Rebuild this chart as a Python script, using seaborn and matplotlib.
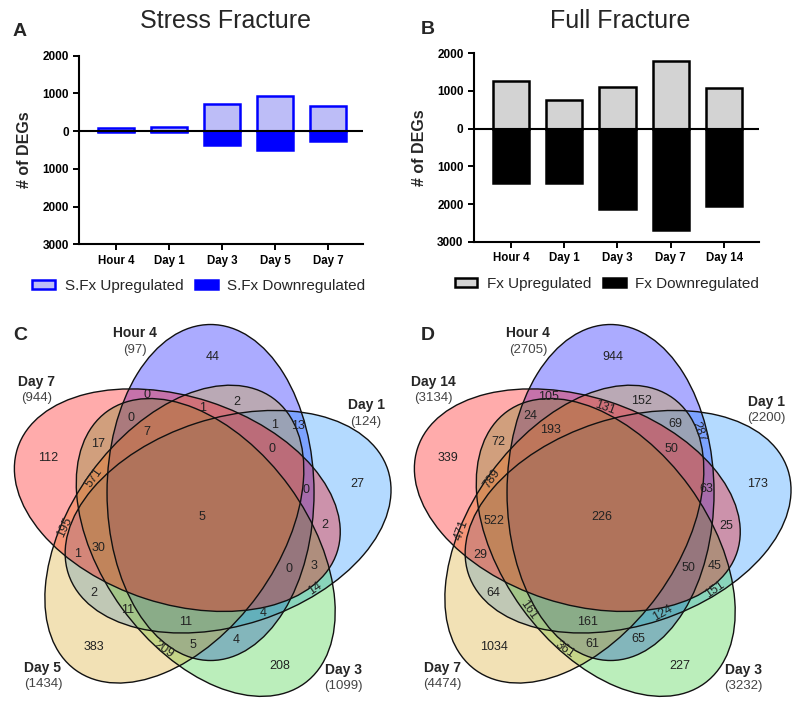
import numpy as np
import matplotlib
matplotlib.use("Agg")
import matplotlib.pyplot as plt
from matplotlib.patches import Ellipse, Patch
import seaborn as sns

# ---- bar chart data (A: stress fracture, B: full fracture) ----
a_days = ["Hour 4", "Day 1", "Day 3", "Day 5", "Day 7"]
a_up = [71, 100, 720, 940, 672]
a_down = [26, 24, 379, 494, 272]

b_days = ["Hour 4", "Day 1", "Day 3", "Day 7", "Day 14"]
b_up = [1270, 765, 1100, 1790, 1080]
b_down = [1435, 1435, 2132, 2684, 2054]

# ---- venn data ----
c_sets = ["Hour 4", "Day 1", "Day 3", "Day 5", "Day 7"]
c_totals = [97, 124, 1099, 1434, 944]
c_counts = [44, 27, 208, 383, 112, 0, 1, 2, 0, 7, 1, 13, 17, 0, 571, 0,
            5, 30, 195, 1, 2, 0, 3, 2, 14, 11, 11, 4, 209, 5, 4]

d_sets = ["Hour 4", "Day 1", "Day 3", "Day 7", "Day 14"]
d_totals = [2705, 2200, 3232, 4474, 3134]
d_counts = [944, 173, 227, 1034, 339, 105, 131, 152, 24, 193, 69, 287, 72, 50, 789, 63,
            226, 522, 471, 29, 25, 50, 45, 64, 151, 161, 161, 124, 361, 61, 65]

# label positions (pixel coords inside each venn panel)
c_pos = [(213, 357), (357, 484), (280, 666), (94, 647), (48, 458), (147, 395),
         (203, 408), (237, 402), (131.5, 418), (147, 432), (275, 425), (298, 426),
         (98, 444), (272, 449), (94, 478), (306, 490), (201.7, 516.7), (99, 548),
         (65, 527), (77.7, 554), (325, 525), (289, 569), (314, 566), (94, 593),
         (315, 589), (127.7, 610), (186, 621.7), (262.7, 613.3), (164, 649.3),
         (192.7, 645), (235.7, 640)]
d_pos = [(213, 357), (358, 484), (280, 666), (94.3, 647), (48.3, 458), (148.3, 396.7),
         (205, 407.3), (241.7, 401), (130.7, 416), (150.7, 430), (275, 424), (298.3, 431.7),
         (98.3, 441.7), (271.7, 449), (91.7, 478.3), (306.7, 489.3), (201.7, 516.7), (94, 521),
         (61.7, 530), (80, 555), (326, 525.7), (288.3, 568.3), (315, 565.7), (93.3, 593.3),
         (315, 590), (128.3, 610), (187.3, 621.7), (262.7, 613.3), (165, 650),
         (192.3, 644), (238.3, 639.3)]
c_rot = [0] * 31
c_rot[14], c_rot[18], c_rot[24], c_rot[28] = 55, 65, 35, -35
d_rot = [0] * 31
d_rot[6], d_rot[11], d_rot[14], d_rot[18] = -20, -70, 55, 70
d_rot[24], d_rot[25], d_rot[27], d_rot[28] = 35, -55, 30, -35

set_pos = [(135, 333), (366, 405), (343.5, 670), (43, 668), (37, 382)]
d_set_pos = [(128.3, 333.3), (366.7, 402), (343.3, 670), (42.7, 668), (33, 382)]
venn_colors = ["#0000FF", "#1E90FF", "#32CD32", "#DAA520", "#FF0000"]

sns.set_theme(style="ticks")
plt.rcParams["font.family"] = ["Liberation Sans", "DejaVu Sans"]

W, H = 800, 709
fig = plt.figure(figsize=(8, 7.09), dpi=100)


def bar_panel(left, right, top, bottom, days, up, down, up_fc, edge, down_fc, title,
              letter, letter_xy, labels, leg_x, leg_y):
    ax = fig.add_axes([left / W, 1 - bottom / H, (right - left) / W, (bottom - top) / H])
    sns.barplot(x=days, y=up, color=up_fc, edgecolor=edge, linewidth=1.8,
                width=0.68, saturation=1, ax=ax)
    sns.barplot(x=days, y=[-v for v in down], color=down_fc, edgecolor=edge, linewidth=1.8,
                width=0.68, saturation=1, ax=ax)
    ax.axhline(0, color="black", lw=1.5, zorder=5)
    ax.set_ylim(-3000, 2000)
    ax.set_xlim(-0.69, 4.66)
    ticks = [2000, 1000, 0, -1000, -2000, -3000]
    ax.set_yticks(ticks)
    ax.set_yticklabels([str(abs(t)) for t in ticks], fontweight="bold", fontsize=8.5)
    ax.set_xticks(range(5))
    ax.set_xticklabels(days, fontweight="bold", fontsize=8.3)
    ax.tick_params(axis="both", length=4, width=1.4, pad=3.5, colors="black")
    for s in ["left", "bottom"]:
        ax.spines[s].set_linewidth(1.5)
        ax.spines[s].set_color("black")
    sns.despine(ax=ax)
    ax.set_ylabel("# of DEGs", fontweight="bold", fontsize=11.5)
    ax.yaxis.set_label_coords(-0.165, 0.5)
    ax.set_xlabel("")
    fig.text((left + right) / 2 / W + 0.005, 1 - 21 / H, title, ha="center", va="center",
             fontsize=18)
    fig.text(letter_xy[0] / W, 1 - letter_xy[1] / H, letter, ha="center", va="center",
             fontsize=14, fontweight="bold")
    handles = [Patch(facecolor=up_fc, edgecolor=edge, linewidth=1.8),
               Patch(facecolor=down_fc, edgecolor=edge, linewidth=1.8)]
    fig.legend(handles, labels, loc="center", bbox_to_anchor=(leg_x / W, 1 - leg_y / H),
               ncol=2, frameon=False, fontsize=11, handlelength=1.45, handleheight=0.6,
               handletextpad=0.65, columnspacing=0.8)
    return ax


bar_panel(79.3, 363.3, 55.7, 244.3, a_days, a_up, a_down, "#BDBDF7", "#0000FF", "#0000FF",
          "Stress Fracture", "A", (20, 32), ["S.Fx Upregulated", "S.Fx Downregulated"], 199, 286)
bar_panel(474, 759.3, 53.3, 241.7, b_days, b_up, b_down, "#D3D3D3", "black", "black",
          "Full Fracture", "B", (428, 29), ["Fx Upregulated", "Fx Downregulated"], 607, 284)


def venn_panel(x0, sets, totals, counts, pos, rot, letter, spos):
    ax = fig.add_axes([x0 / W, 0, 400 / W, 409 / H])
    ax.set_xlim(x0, x0 + 400)
    ax.set_ylim(709, 300)
    ax.axis("off")
    # five congruent ellipses, each turned 72 degrees from the last
    cx, cy, r, A, B = x0 + 199.2, 519.2, 29, 168, 103.5
    shapes = []
    for k in range(5):
        phi = np.deg2rad(67 - 72 * k)
        center = (cx + r * np.cos(phi), cy - r * np.sin(phi))
        shapes.append((center, -(90 - 72 * k)))
    for k, (center, ang) in enumerate(shapes):
        ax.add_patch(Ellipse(center, 2 * A, 2 * B, angle=ang, facecolor=venn_colors[k],
                             alpha=0.33, edgecolor="none"))
    for center, ang in shapes:
        ax.add_patch(Ellipse(center, 2 * A, 2 * B, angle=ang, facecolor="none",
                             edgecolor="#111111", lw=1.0))
    for v, (x, y), rr in zip(counts, pos, rot):
        ax.text(x0 + x, y, str(v), ha="center", va="center", fontsize=9, rotation=rr,
                color="#222222")
    for name, tot, (x, y) in zip(sets, totals, spos):
        ax.text(x0 + x, y, name, ha="center", va="center", fontsize=10, fontweight="bold")
        ax.text(x0 + x, y + 16.5, f"({tot})", ha="center", va="center", fontsize=9.5,
                color="#444444")
    ax.text(x0 + 20 + (8 if letter == "D" else 0), 336, letter, ha="center", va="center",
            fontsize=14, fontweight="bold")


venn_panel(0, c_sets, c_totals, c_counts, c_pos, c_rot, "C", set_pos)
venn_panel(400, d_sets, d_totals, d_counts, d_pos, d_rot, "D", d_set_pos)

fig.savefig("out.png", dpi=100)
